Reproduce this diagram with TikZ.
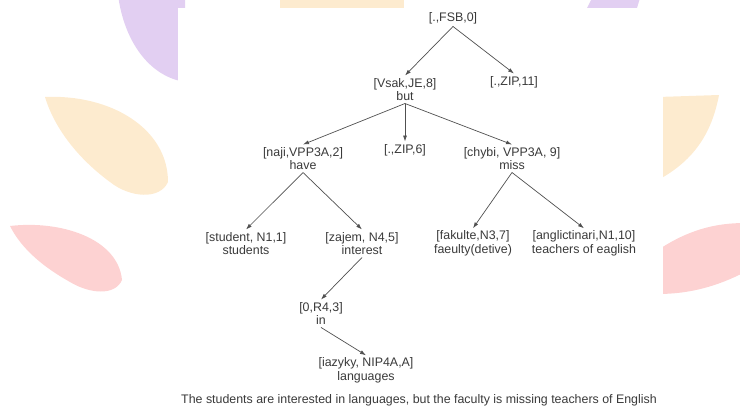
\documentclass[tikz,border=0pt]{standalone}
\usepackage{fontspec}
\setmainfont{Liberation Sans}
\usetikzlibrary{arrows.meta}

\definecolor{textgray}{HTML}{3A3A3A}
\definecolor{linegray}{HTML}{505050}
\definecolor{petalpurple}{HTML}{E2CFF2}
\definecolor{petalorange}{HTML}{FDEBCF}
\definecolor{petalpink}{HTML}{FDD2D2}

\tikzset{
  word/.style={align=center, text=textgray, inner sep=2.5pt,
    font=\fontsize{12.4}{13.5}\selectfont},
  link/.style={draw=linegray, line width=0.7pt, -{Latex[length=6pt,width=4pt]}}
}

\begin{document}
\begin{tikzpicture}[x=1pt,y=-1pt]

        \useasboundingbox (0,0) rectangle (740,410);

        % Background petals
        \fill[petalpurple] (118,-5) .. controls (124,40) and (148,76) .. (185,82) -- (185,-5) -- cycle;
        \fill[petalorange] (45,97) .. controls (110,94) and (168,128) .. (168,182)
            .. controls (160,200) and (130,198) .. (110,182) .. controls (80,160) and (55,130) .. cycle;
        \fill[petalpink] (10,226) .. controls (60,220) and (118,238) .. (122,280)
            .. controls (115,296) and (90,294) .. (70,282) .. controls (45,268) and (22,250) .. cycle;
        \fill[petalorange] (658,97) -- (719,95) .. controls (712,132) and (695,160) .. (658,180) -- cycle;
        \fill[petalpink] (658,250) .. controls (688,230) and (715,223) .. (745,223) -- (745,272)
            .. controls (718,286) and (690,294) .. (658,294) -- cycle;
        \fill[petalorange] (280,-2) rectangle (404,8);
        \fill[petalpurple] (592,-2) -- (640,-2) -- (637,8) -- (587,8) -- cycle;
        \fill[white] (178,8) rectangle (663,412);

        % Defining the nodes of the tree
        \node[word] (fsb) at (453,18) {[.,FSB,0]};
        \node[word] (vsak) at (405,89.5) {[Vsak,JE,8]\\but};
        \node[word] (zip11) at (514,82) {[.,ZIP,11]};
        \node[word] (naji) at (303,158.5) {[naji,VPP3A,2]\\have};
        \node[word] (zip6) at (405,150) {[.,ZIP,6]};
        \node[word] (chybi) at (512,158.5) {[chybi, VPP3A, 9]\\miss};
        \node[word] (student) at (246,243.5) {[student, N1,1]\\students};
        \node[word] (zajem) at (362,243.5) {[zajem, N4,5]\\interest};
        \node[word] (fakulte) at (473,243.5) {[fakulte,N3,7]\\faeulty(detive)};
        \node[word] (anglic) at (584,243.5) {[anglictinari,N1,10]\\teachers of eaglish};
        \node[word] (r4) at (321,313.5) {[0,R4,3]\\in};
        \node[word] (iazyky) at (366,370.5) {[iazyky, NIP4A,A]\\languages};

        % Caption
        \node[word] (caption) at (419,400) {The students are interested in languages, but the faculty is missing teachers of English};

        % Defining the links between the nodes
        \draw[link] (fsb.south) -- (vsak.north);
        \draw[link] (fsb.south) -- (zip11.north);
        \draw[link] (vsak.south) -- (naji.north);
        \draw[link] (vsak.south) -- (zip6.north);
        \draw[link] (vsak.south) -- (chybi.north);
        \draw[link] (naji.south) -- (student.north);
        \draw[link] (naji.south) -- (zajem.north);
        \draw[link] (chybi.south) -- (fakulte.north);
        \draw[link] (chybi.south) -- (anglic.north);
        \draw[link] (zajem.south) -- (r4.north);
        \draw[link] (r4.south) -- (iazyky.north);

    \end{tikzpicture}
\end{document}
